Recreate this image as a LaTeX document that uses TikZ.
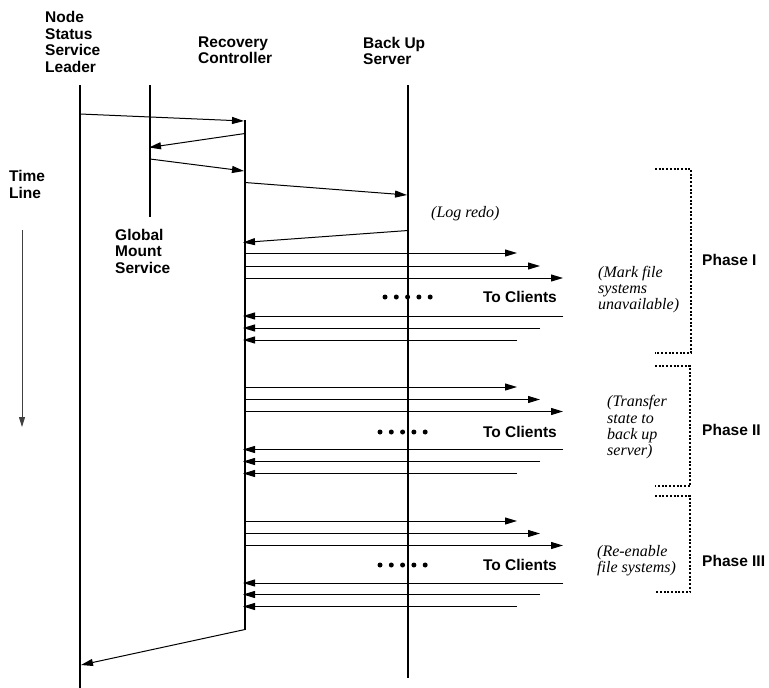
\documentclass[tikz,border=0pt]{standalone}
\usepackage{fontspec}
\setmainfont{Liberation Serif}
\setsansfont{Liberation Sans}
\usetikzlibrary{arrows.meta}
\begin{document}
\begin{tikzpicture}[x=1pt,y=-1pt,
  lbl/.style={font=\sffamily\bfseries\fontsize{15.5}{16.4}\selectfont, align=left, inner sep=0pt},
  note/.style={font=\itshape\fontsize{16}{16.3}\selectfont, align=left, inner sep=0pt, anchor=west},
  life/.style={line width=2pt},
  msg/.style={line width=1pt, -{Triangle[length=12pt,width=7pt]}},
  bracket/.style={line width=2.3pt, dash pattern=on 2pt off 1.7pt},
  dotmark/.style={circle, fill=black, inner sep=0pt, minimum size=5pt},
  ]
\useasboundingbox (0,0) rectangle (769,688);

% lifeline labels
\node[lbl, anchor=north west] (lnss) at (45,11.4) {Node\\Status\\Service\\Leader};
\node[lbl, anchor=north west] (lrc) at (198,36.5) {Recovery\\Controller};
\node[lbl, anchor=north west] (lbs) at (363,37) {Back Up\\Server};
\node[lbl, anchor=north west] (lgms) at (115,229) {Global\\Mount\\Service};
\node[lbl, anchor=north west] (ltime) at (9,170.5) {Time\\Line};

% lifelines
\coordinate (nssT) at (80,85);   \coordinate (nssB) at (80,688);
\coordinate (gmsT) at (150,85);  \coordinate (gmsB) at (150,217);
\coordinate (rcT) at (245,120);  \coordinate (rcB) at (245,630);
\coordinate (bsT) at (408,85);   \coordinate (bsB) at (408,678);
\draw[life] (nssT) -- (nssB);
\draw[life] (gmsT) -- (gmsB);
\draw[life] (rcT) -- (rcB);
\draw[life] (bsT) -- (bsB);

% time line arrow
\coordinate (tA) at (22,230); \coordinate (tB) at (22,427);
\draw[line width=1pt, draw=black!75, -{Triangle[length=10pt,width=6pt]}] (tA) -- (tB);

% setup messages
\coordinate (m1s) at (80,114);   \coordinate (m1e) at (244,121);
\coordinate (m2s) at (245,133.5);\coordinate (m2e) at (149,147.5);
\coordinate (m3s) at (150,159);  \coordinate (m3e) at (244,171);
\coordinate (m4s) at (245,182.5);\coordinate (m4e) at (407,195);
\coordinate (m5s) at (408,230.5);\coordinate (m5e) at (243,242.5);
\coordinate (m6s) at (245,629.5);\coordinate (m6e) at (81,665);
\draw[msg] (m1s) -- (m1e);
\draw[msg] (m2s) -- (m2e);
\draw[msg] (m3s) -- (m3e);
\draw[msg] (m4s) -- (m4e);
\draw[msg] (m5s) -- (m5e);
\draw[msg] (m6s) -- (m6e);

\node[note] (logredo) at (431,214) {(Log redo)};

% client traffic per phase
\foreach \p/\ya/\yb/\yc/\ra/\rb/\rc/\yd/\dx in {I/253/266/278/316/328/340/297/385, II/387/399.5/411.5/449.5/461.5/473.5/432/380, III/521/533.5/545.5/583/594.5/606.5/565/380}{
  \coordinate (o1s\p) at (245,\ya); \coordinate (o1e\p) at (517,\ya);
  \coordinate (o2s\p) at (245,\yb); \coordinate (o2e\p) at (540,\yb);
  \coordinate (o3s\p) at (245,\yc); \coordinate (o3e\p) at (563,\yc);
  \draw[msg] (o1s\p) -- (o1e\p);
  \draw[msg] (o2s\p) -- (o2e\p);
  \draw[msg] (o3s\p) -- (o3e\p);
  \coordinate (r1s\p) at (563,\ra); \coordinate (r1e\p) at (243,\ra);
  \coordinate (r2s\p) at (540,\rb); \coordinate (r2e\p) at (243,\rb);
  \coordinate (r3s\p) at (517,\rc); \coordinate (r3e\p) at (243,\rc);
  \draw[msg] (r1s\p) -- (r1e\p);
  \draw[msg] (r2s\p) -- (r2e\p);
  \draw[msg] (r3s\p) -- (r3e\p);
  \foreach \k in {0,...,4}{
    \node[dotmark] (d\p\k) at (\dx+11.3*\k,\yd) {};
  }
  \node[lbl, anchor=east] (tc\p) at (557,\yd) {To Clients};
}

% phase notes
\node[note] (n1) at (598,289.5) {(Mark file\\systems\\unavailable)};
\node[note] (n2) at (607,427.5) {(Transfer\\state to\\back up\\server)};
\node[note] (n3) at (597,561) {(Re-enable\\file systems)};

% phase brackets
\coordinate (b1a) at (655,169); \coordinate (b1b) at (691,169);
\coordinate (b1c) at (691,353); \coordinate (b1d) at (655,353);
\coordinate (b2a) at (655,366); \coordinate (b2b) at (690,366);
\coordinate (b2c) at (690,486); \coordinate (b2d) at (655,486);
\coordinate (b3a) at (655,496); \coordinate (b3b) at (690,496);
\coordinate (b3c) at (690,592); \coordinate (b3d) at (655,592);
\draw[bracket] (b1a) -- (b1b) -- (b1c) -- (b1d);
\draw[bracket] (b2a) -- (b2b) -- (b2c) -- (b2d);
\draw[bracket] (b3a) -- (b3b) -- (b3c) -- (b3d);

\node[lbl, anchor=west] (ph1) at (702,260) {Phase I};
\node[lbl, anchor=west] (ph2) at (702,430) {Phase II};
\node[lbl, anchor=west] (ph3) at (702,561) {Phase III};
\end{tikzpicture}
\end{document}
